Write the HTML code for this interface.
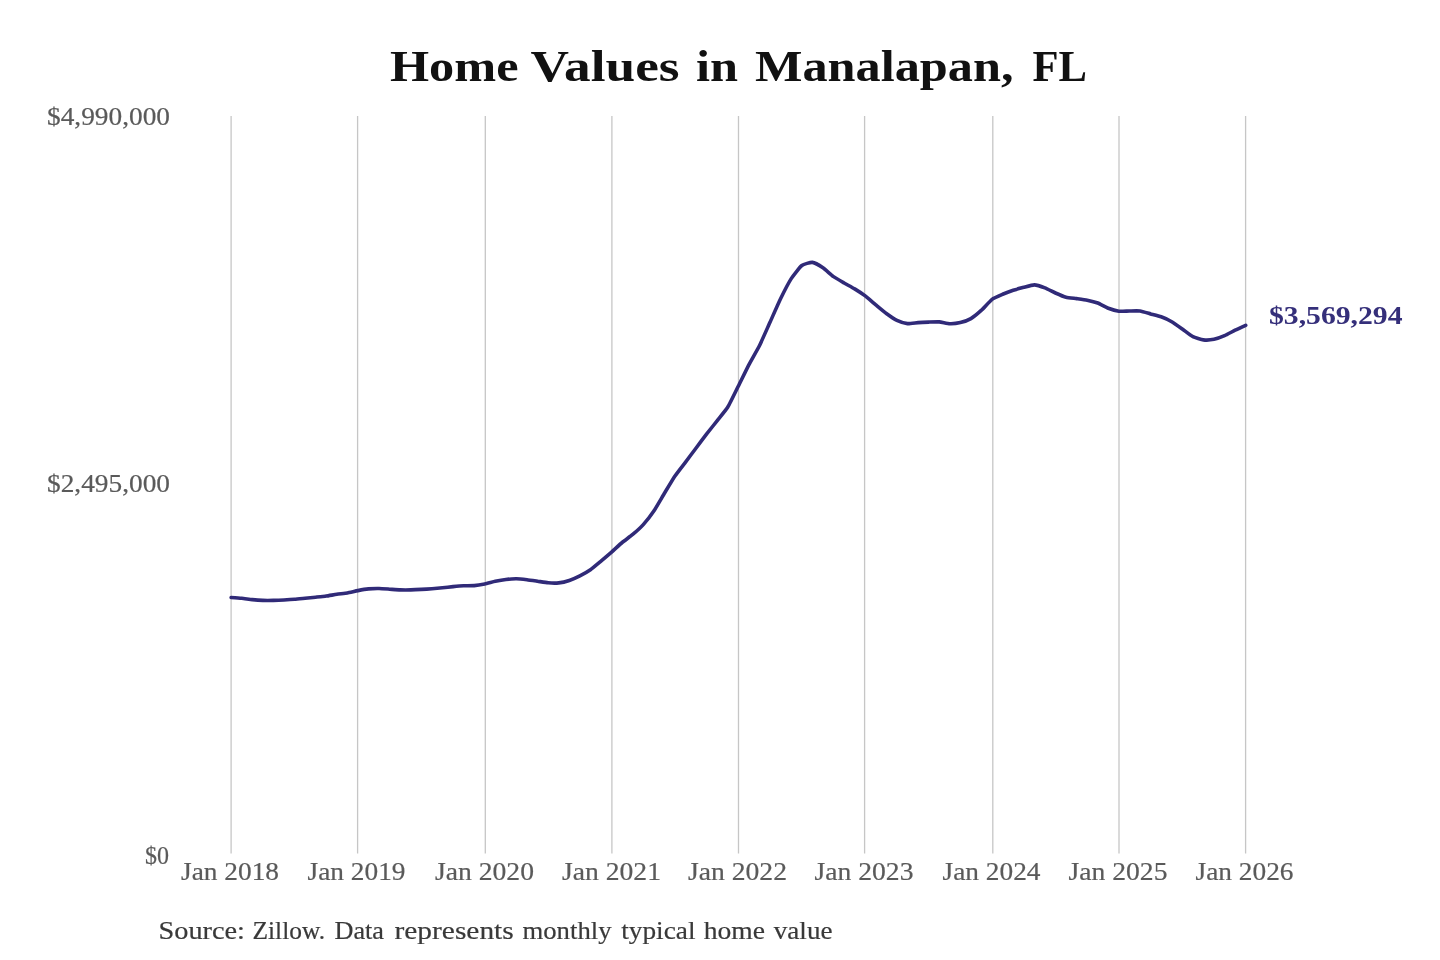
<!DOCTYPE html>
<html><head><meta charset="utf-8"><style>
html,body{margin:0;padding:0;background:#fff;width:1440px;height:960px;overflow:hidden}
svg{position:absolute;left:0;top:0;display:block;filter:blur(0.45px)}
text{font-family:"Liberation Serif",serif}
</style></head><body>
<svg width="1440" height="960" viewBox="0 0 1440 960">
<rect width="1440" height="960" fill="#ffffff"/>
<line x1="231.1" y1="116" x2="231.1" y2="853.5" stroke="#c6c6c6" stroke-width="1.3"/>
<line x1="357.6" y1="116" x2="357.6" y2="853.5" stroke="#c6c6c6" stroke-width="1.3"/>
<line x1="485.3" y1="116" x2="485.3" y2="853.5" stroke="#c6c6c6" stroke-width="1.3"/>
<line x1="611.9" y1="116" x2="611.9" y2="853.5" stroke="#c6c6c6" stroke-width="1.3"/>
<line x1="738.5" y1="116" x2="738.5" y2="853.5" stroke="#c6c6c6" stroke-width="1.3"/>
<line x1="864.6" y1="116" x2="864.6" y2="853.5" stroke="#c6c6c6" stroke-width="1.3"/>
<line x1="992.8" y1="116" x2="992.8" y2="853.5" stroke="#c6c6c6" stroke-width="1.3"/>
<line x1="1119.0" y1="116" x2="1119.0" y2="853.5" stroke="#c6c6c6" stroke-width="1.3"/>
<line x1="1245.6" y1="116" x2="1245.6" y2="853.5" stroke="#c6c6c6" stroke-width="1.3"/>
<path d="M231.10,597.51 C231.98,597.57 239.91,598.12 241.67,598.30 C243.43,598.47 250.48,599.46 252.24,599.63 C254.00,599.81 261.04,600.34 262.81,600.40 C264.57,600.46 271.61,600.44 273.38,600.40 C275.14,600.36 282.18,600.06 283.94,599.97 C285.71,599.88 292.75,599.46 294.51,599.31 C296.27,599.17 303.32,598.41 305.08,598.23 C306.84,598.05 313.89,597.36 315.65,597.17 C317.41,596.99 324.46,596.29 326.22,596.05 C327.98,595.80 335.03,594.54 336.79,594.28 C338.55,594.01 345.59,593.21 347.36,592.90 C349.12,592.59 356.16,590.95 357.93,590.62 C359.69,590.28 366.73,589.08 368.49,588.91 C370.26,588.73 377.30,588.48 379.06,588.51 C380.82,588.53 387.87,589.06 389.63,589.18 C391.39,589.29 398.44,589.80 400.20,589.85 C401.96,589.91 409.01,589.91 410.77,589.87 C412.53,589.83 419.58,589.50 421.34,589.40 C423.10,589.31 430.14,588.86 431.91,588.73 C433.67,588.60 440.71,587.98 442.48,587.81 C444.24,587.64 451.28,586.82 453.04,586.65 C454.81,586.48 461.85,585.88 463.61,585.79 C465.37,585.71 472.42,585.76 474.18,585.60 C475.94,585.44 482.99,584.26 484.75,583.90 C486.51,583.55 493.56,581.73 495.32,581.36 C497.08,580.99 504.13,579.72 505.89,579.50 C507.65,579.28 514.69,578.72 516.46,578.74 C518.22,578.75 525.26,579.51 527.02,579.72 C528.79,579.93 535.83,580.99 537.59,581.25 C539.36,581.51 546.40,582.69 548.16,582.83 C549.92,582.97 556.97,583.11 558.73,582.91 C560.49,582.72 567.54,581.05 569.30,580.47 C571.06,579.88 578.11,576.75 579.87,575.86 C581.63,574.96 588.68,570.94 590.44,569.71 C592.20,568.47 599.24,562.51 601.01,561.04 C602.77,559.58 609.81,553.64 611.57,552.09 C613.34,550.55 620.38,543.96 622.14,542.50 C623.91,541.03 630.95,535.96 632.71,534.47 C634.47,532.98 641.52,526.56 643.28,524.60 C645.04,522.64 652.09,513.61 653.85,511.00 C655.61,508.39 662.66,496.22 664.42,493.30 C666.18,490.38 673.23,478.61 674.99,476.00 C676.75,473.39 683.79,464.37 685.56,462.04 C687.32,459.70 694.36,450.31 696.12,447.97 C697.89,445.62 704.93,436.21 706.69,433.92 C708.46,431.64 715.50,422.80 717.26,420.56 C719.02,418.32 726.07,409.93 727.83,407.05 C729.59,404.17 736.64,389.54 738.40,386.00 C740.16,382.46 747.21,367.94 748.97,364.56 C750.73,361.18 757.78,349.00 759.54,345.45 C761.30,341.91 768.34,325.91 770.11,322.00 C771.87,318.09 778.91,302.11 780.68,298.49 C782.44,294.88 789.48,281.35 791.24,278.60 C793.01,275.85 800.05,266.85 801.81,265.50 C803.57,264.15 810.62,262.21 812.38,262.40 C814.14,262.59 821.19,266.61 822.95,267.80 C824.71,268.99 831.76,275.39 833.52,276.65 C835.28,277.92 842.33,281.97 844.09,282.99 C845.85,284.01 852.89,287.83 854.66,288.91 C856.42,289.99 863.46,294.60 865.23,295.93 C866.99,297.26 874.03,303.40 875.79,304.86 C877.56,306.32 884.60,312.18 886.36,313.47 C888.12,314.76 895.17,319.50 896.93,320.34 C898.69,321.19 905.74,323.40 907.50,323.59 C909.26,323.78 916.31,322.73 918.07,322.61 C919.83,322.48 926.88,322.16 928.64,322.10 C930.40,322.04 937.44,321.75 939.21,321.89 C940.97,322.02 948.01,323.63 949.78,323.68 C951.54,323.74 958.58,322.97 960.34,322.54 C962.11,322.12 969.15,319.63 970.91,318.60 C972.67,317.57 979.72,311.81 981.48,310.20 C983.24,308.59 990.29,300.65 992.05,299.33 C993.81,298.00 1000.86,295.02 1002.62,294.27 C1004.38,293.52 1011.43,290.89 1013.19,290.31 C1014.95,289.73 1021.99,287.77 1023.76,287.32 C1025.52,286.86 1032.56,284.81 1034.33,284.86 C1036.09,284.90 1043.13,287.21 1044.89,287.89 C1046.66,288.57 1053.70,292.23 1055.46,293.00 C1057.22,293.78 1064.27,296.76 1066.03,297.23 C1067.79,297.70 1074.84,298.39 1076.60,298.64 C1078.36,298.88 1085.41,299.81 1087.17,300.17 C1088.93,300.54 1095.98,302.34 1097.74,303.02 C1099.50,303.70 1106.54,307.62 1108.31,308.30 C1110.07,308.98 1117.11,310.99 1118.88,311.22 C1120.64,311.44 1127.68,311.03 1129.44,311.02 C1131.21,311.00 1138.25,310.78 1140.01,311.02 C1141.77,311.26 1148.82,313.41 1150.58,313.90 C1152.34,314.38 1159.39,316.15 1161.15,316.80 C1162.91,317.45 1169.96,320.67 1171.72,321.69 C1173.48,322.70 1180.53,327.73 1182.29,328.98 C1184.05,330.23 1191.09,335.77 1192.86,336.68 C1194.62,337.59 1201.66,339.68 1203.42,339.90 C1205.19,340.12 1212.23,339.69 1213.99,339.34 C1215.76,338.99 1222.80,336.46 1224.56,335.70 C1226.32,334.94 1233.37,331.08 1235.13,330.22 C1236.89,329.36 1244.82,325.75 1245.70,325.35" fill="none" stroke="#302a78" stroke-width="3.6" stroke-linecap="round" stroke-linejoin="round"/>
<text x="390.00" y="81.2" font-size="43.5" font-weight="bold" fill="#111111" textLength="128.50" lengthAdjust="spacingAndGlyphs">Home</text>
<text x="530.50" y="81.2" font-size="43.5" font-weight="bold" fill="#111111" textLength="149.00" lengthAdjust="spacingAndGlyphs">Values</text>
<text x="696.00" y="81.2" font-size="43.5" font-weight="bold" fill="#111111" textLength="42.00" lengthAdjust="spacingAndGlyphs">in</text>
<text x="755.00" y="81.2" font-size="43.5" font-weight="bold" fill="#111111" textLength="258.50" lengthAdjust="spacingAndGlyphs">Manalapan,</text>
<text x="1032.50" y="81.2" font-size="43.5" font-weight="bold" fill="#111111" textLength="54.50" lengthAdjust="spacingAndGlyphs">FL</text>
<text x="47.00" y="124.5" font-size="25.5" font-weight="normal" fill="#5a5a5a" stroke="#5a5a5a" stroke-width="0.2" textLength="123.00" lengthAdjust="spacingAndGlyphs">$4,990,000</text>
<text x="47.00" y="492.2" font-size="25.5" font-weight="normal" fill="#5a5a5a" stroke="#5a5a5a" stroke-width="0.2" textLength="123.00" lengthAdjust="spacingAndGlyphs">$2,495,000</text>
<text x="145.00" y="863.6" font-size="25.5" font-weight="normal" fill="#5a5a5a" stroke="#5a5a5a" stroke-width="0.2" textLength="24.00" lengthAdjust="spacingAndGlyphs">$0</text>
<text x="1269.00" y="324.1" font-size="25.5" font-weight="bold" fill="#352f7a" textLength="133.50" lengthAdjust="spacingAndGlyphs">$3,569,294</text>
<text x="158.50" y="938.9" font-size="25.5" font-weight="normal" fill="#393939" stroke="#393939" stroke-width="0.2" textLength="86.50" lengthAdjust="spacingAndGlyphs">Source:</text>
<text x="252.50" y="938.9" font-size="25.5" font-weight="normal" fill="#393939" stroke="#393939" stroke-width="0.2" textLength="72.50" lengthAdjust="spacingAndGlyphs">Zillow.</text>
<text x="334.50" y="938.9" font-size="25.5" font-weight="normal" fill="#393939" stroke="#393939" stroke-width="0.2" textLength="49.50" lengthAdjust="spacingAndGlyphs">Data</text>
<text x="394.50" y="938.9" font-size="25.5" font-weight="normal" fill="#393939" stroke="#393939" stroke-width="0.2" textLength="119.25" lengthAdjust="spacingAndGlyphs">represents</text>
<text x="522.50" y="938.9" font-size="25.5" font-weight="normal" fill="#393939" stroke="#393939" stroke-width="0.2" textLength="89.00" lengthAdjust="spacingAndGlyphs">monthly</text>
<text x="621.25" y="938.9" font-size="25.5" font-weight="normal" fill="#393939" stroke="#393939" stroke-width="0.2" textLength="74.25" lengthAdjust="spacingAndGlyphs">typical</text>
<text x="703.75" y="938.9" font-size="25.5" font-weight="normal" fill="#393939" stroke="#393939" stroke-width="0.2" textLength="61.25" lengthAdjust="spacingAndGlyphs">home</text>
<text x="773.75" y="938.9" font-size="25.5" font-weight="normal" fill="#393939" stroke="#393939" stroke-width="0.2" textLength="58.75" lengthAdjust="spacingAndGlyphs">value</text>
<text x="181.00" y="879.5" font-size="25.5" font-weight="normal" fill="#5a5a5a" stroke="#5a5a5a" stroke-width="0.2" textLength="98.00" lengthAdjust="spacingAndGlyphs">Jan 2018</text>
<text x="307.50" y="879.5" font-size="25.5" font-weight="normal" fill="#5a5a5a" stroke="#5a5a5a" stroke-width="0.2" textLength="98.00" lengthAdjust="spacingAndGlyphs">Jan 2019</text>
<text x="435.00" y="879.5" font-size="25.5" font-weight="normal" fill="#5a5a5a" stroke="#5a5a5a" stroke-width="0.2" textLength="99.00" lengthAdjust="spacingAndGlyphs">Jan 2020</text>
<text x="562.00" y="879.5" font-size="25.5" font-weight="normal" fill="#5a5a5a" stroke="#5a5a5a" stroke-width="0.2" textLength="99.00" lengthAdjust="spacingAndGlyphs">Jan 2021</text>
<text x="688.00" y="879.5" font-size="25.5" font-weight="normal" fill="#5a5a5a" stroke="#5a5a5a" stroke-width="0.2" textLength="99.00" lengthAdjust="spacingAndGlyphs">Jan 2022</text>
<text x="814.50" y="879.5" font-size="25.5" font-weight="normal" fill="#5a5a5a" stroke="#5a5a5a" stroke-width="0.2" textLength="99.00" lengthAdjust="spacingAndGlyphs">Jan 2023</text>
<text x="942.50" y="879.5" font-size="25.5" font-weight="normal" fill="#5a5a5a" stroke="#5a5a5a" stroke-width="0.2" textLength="98.00" lengthAdjust="spacingAndGlyphs">Jan 2024</text>
<text x="1068.50" y="879.5" font-size="25.5" font-weight="normal" fill="#5a5a5a" stroke="#5a5a5a" stroke-width="0.2" textLength="99.00" lengthAdjust="spacingAndGlyphs">Jan 2025</text>
<text x="1195.50" y="879.5" font-size="25.5" font-weight="normal" fill="#5a5a5a" stroke="#5a5a5a" stroke-width="0.2" textLength="98.00" lengthAdjust="spacingAndGlyphs">Jan 2026</text>
</svg>
</body></html>
